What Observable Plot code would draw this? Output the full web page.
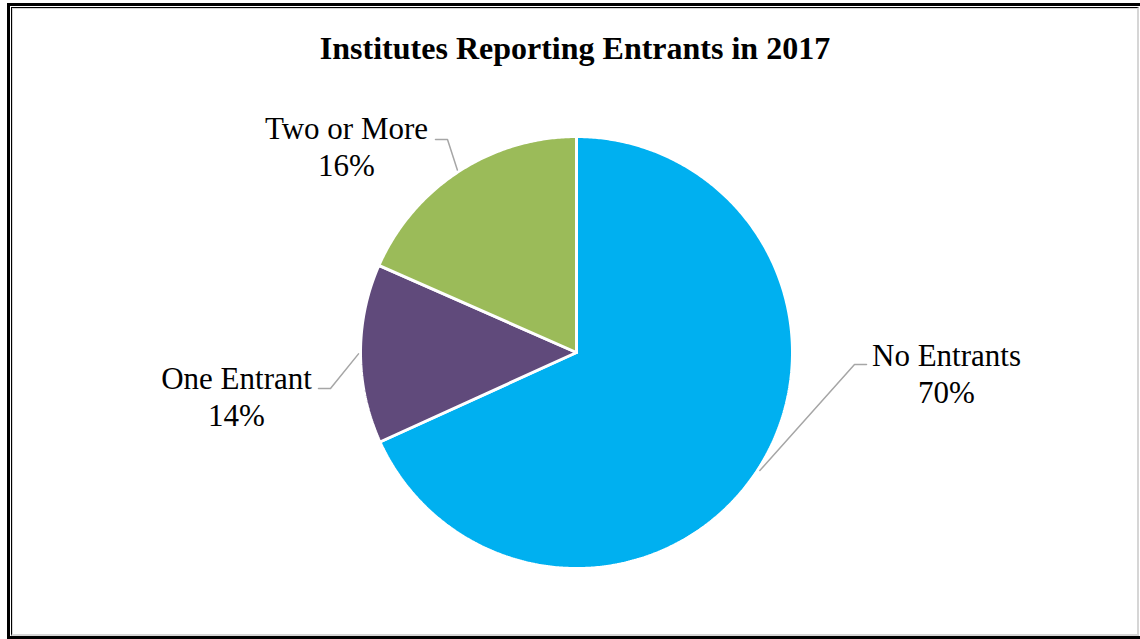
<!DOCTYPE html>
<html>
<head>
<meta charset="utf-8">
<script src="https://cdn.jsdelivr.net/npm/d3@7"></script>
<script src="https://cdn.jsdelivr.net/npm/@observablehq/plot@0.6"></script>
<style>
  html, body { margin: 0; padding: 0; background: #fff; width: 1140px; height: 639px; overflow: hidden; }
  #outer { position: absolute; left: 7px; top: 3px; width: 1200px; height: 636px; border: 3px solid #000; box-sizing: border-box; }
  #inner { position: absolute; left: 11px; top: 7px; width: 1128px; height: 629px; box-sizing: border-box;
           border-left: 1px solid #000; border-top: 1px solid #000;
           border-right: 2px solid #d6d6d6; border-bottom: 2px solid #d6d6d6;
           box-shadow: inset 1px 1px 0 #d6d6d6; }
  #title { position: absolute; left: 0; width: 1150px; top: 32px; text-align: center;
           font: bold 32px/32px "Liberation Serif", "Times New Roman", serif; color: #000; }
  #chart { position: absolute; left: 0; top: 0; }
  #chart svg text { font-family: "Liberation Serif", "Times New Roman", serif; }
</style>
</head>
<body>
<div id="outer"></div>
<div id="inner"></div>
<div id="title">Institutes Reporting Entrants in 2017</div>
<div id="chart"></div>
<script>
// ---- data ----
const categories = ["No Entrants", "One Entrant", "Two or More"];
const shares = [68.2, 13.4, 18.4];          // slice sizes as drawn
const percentLabels = ["70%", "14%", "16%"]; // printed data labels
const colors = ["#00B0F0", "#604A7B", "#9BBB59"];

// ---- layout ----
const W = 1140, H = 639;
const cx = 576, cy = 352, r = 216;
// label placement (pixels) : text centre x, last baseline y, leader elbow and end
const labelLayout = [
  {tx: 946, ty: 402, elbow: [854, 364], end: [866, 364]},
  {tx: 236, ty: 425, elbow: [330, 388], end: [318, 388]},
  {tx: 346, ty: 175, elbow: [447, 139], end: [435, 139]}
];

const rows = categories.map((c, i) => ({cat: c, value: shares[i], pct: percentLabels[i]}));
const arcs = d3.pie().sort(null).value(d => d.value).startAngle(0).endAngle(2 * Math.PI)(rows);

const px = a => cx + r * Math.sin(a);
const py = a => cy - r * Math.cos(a);

const slicePts = [];
arcs.forEach(a => {
  const cat = a.data.cat;
  slicePts.push({cat, x: cx, y: cy});
  const n = Math.max(2, Math.ceil((a.endAngle - a.startAngle) / (Math.PI / 360)));
  for (let k = 0; k <= n; k++) {
    const t = a.startAngle + (a.endAngle - a.startAngle) * k / n;
    slicePts.push({cat, x: px(t), y: py(t)});
  }
  slicePts.push({cat, x: cx, y: cy});
});

const leaderPts = [];
const labelRows = [];
arcs.forEach((a, i) => {
  const cat = a.data.cat;
  const L = labelLayout[i];
  const mid = (a.startAngle + a.endAngle) / 2;
  leaderPts.push({cat, x: cx + (r + 2) * Math.sin(mid), y: cy - (r + 2) * Math.cos(mid)});
  leaderPts.push({cat, x: L.elbow[0], y: L.elbow[1]});
  leaderPts.push({cat, x: L.end[0], y: L.end[1]});
  labelRows.push({cat, x: L.tx, y: L.ty, text: cat + "\n" + a.data.pct});
});

const chart = Plot.plot({
  width: W, height: H,
  margin: 0,
  style: {background: "transparent", overflow: "visible", fontFamily: "Liberation Serif, Times New Roman, serif"},
  x: {domain: [0, W], range: [0, W], axis: null},
  y: {domain: [0, H], range: [0, H], axis: null},
  color: {domain: categories, range: colors},
  marks: [
    Plot.line(slicePts, {x: "x", y: "y", z: "cat", fill: "cat", stroke: "white", strokeWidth: 3, strokeLinejoin: "miter"}),
    Plot.line(leaderPts, {x: "x", y: "y", z: "cat", stroke: "#A6A6A6", strokeWidth: 1.5}),
    Plot.text(labelRows, {x: "x", y: "y", text: "text", textAnchor: "middle", lineAnchor: "bottom",
      fontSize: 31, fontFamily: "Liberation Serif, Times New Roman, serif", lineHeight: 1.19, fill: "black"})
  ]
});
document.getElementById("chart").appendChild(chart);
</script>
</body>
</html>
